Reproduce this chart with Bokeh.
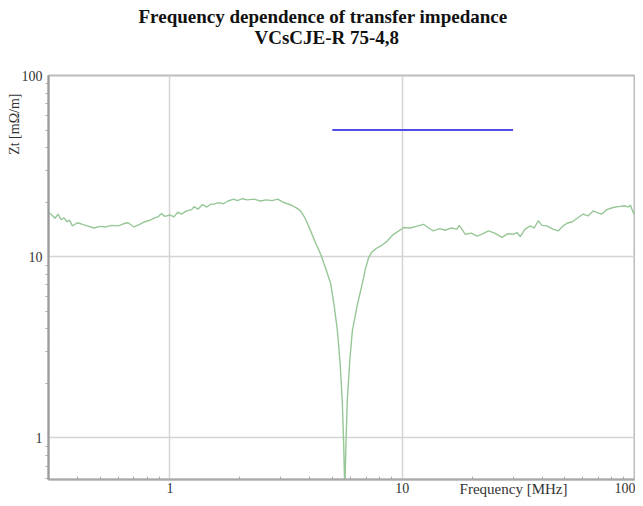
from bokeh.plotting import figure
from bokeh.models import Title, FixedTicker
from bokeh.embed import file_html
from bokeh.resources import INLINE

# Data
freq_mhz = [0.30, 0.31, 0.32, 0.33, 0.34, 0.35, 0.36, 0.37, 0.38, 0.40, 0.42, 0.44, 0.47, 0.50,
            0.53, 0.56, 0.60, 0.63, 0.66, 0.70, 0.74, 0.78, 0.82, 0.86, 0.89, 0.92, 0.95, 1.00,
            1.04, 1.08, 1.12, 1.18, 1.24, 1.27, 1.32, 1.38, 1.44, 1.50, 1.55, 1.62, 1.70, 1.78,
            1.88, 1.95, 2.05, 2.15, 2.30, 2.45, 2.60, 2.75, 2.91, 3.05, 3.20, 3.31, 3.50, 3.65,
            3.80, 3.95, 4.10, 4.25, 4.46, 4.70, 4.92, 5.10, 5.26, 5.40, 5.52, 5.60, 5.66, 5.72,
            5.80, 5.95, 6.10, 6.40, 6.73, 6.95, 7.17, 7.40, 7.81, 8.20, 8.62, 9.17, 9.60, 10.16,
            10.8, 11.5, 12.35, 12.9, 13.6, 14.5, 15.3, 16.2, 17.2, 17.6, 18.7, 19.8, 21.0, 22.3,
            23.5, 25.0, 26.9, 28.5, 30.0, 31.2, 32.2, 33.8, 35.6, 37.0, 38.5, 40.0, 42.0, 44.5,
            47.0, 49.0, 51.2, 54.0, 57.0, 60.1, 63.0, 66.4, 69.0, 72.3, 76.0, 80.9, 85.0, 91.1,
            94.0, 96.0, 98.6, 100.0]
zt_measured = [17.6, 17.0, 16.3, 17.2, 16.0, 16.4, 15.6, 15.9, 14.8, 15.4, 15.1, 14.8, 14.4, 14.7,
               14.6, 14.9, 14.8, 15.2, 15.4, 14.6, 15.1, 15.6, 15.9, 16.4, 16.6, 17.3, 16.7, 17.0,
               16.6, 17.6, 17.2, 17.9, 18.2, 18.9, 18.3, 19.4, 18.8, 19.5, 19.5, 19.9, 19.6, 20.3,
               20.8, 20.4, 20.9, 20.6, 20.8, 20.3, 20.6, 20.4, 20.8, 20.1, 19.6, 19.3, 18.6, 17.9,
               16.5, 14.8, 13.2, 11.8, 10.3, 8.5, 7.1, 5.3, 3.9, 2.6, 1.6, 0.9, 0.5, 0.9,
               1.6, 2.7, 3.9, 5.4, 7.1, 8.6, 9.9, 10.6, 11.2, 11.6, 12.2, 13.3, 13.8, 14.5,
               14.4, 14.7, 15.1, 14.5, 13.9, 14.3, 14.0, 14.4, 14.2, 14.9, 13.3, 13.5, 13.0, 13.4,
               13.9, 13.5, 12.8, 13.4, 13.3, 13.6, 12.9, 14.2, 14.8, 14.4, 15.8, 14.9, 14.8, 14.2,
               13.9, 14.7, 15.3, 15.6, 16.4, 17.2, 16.8, 17.9, 17.5, 17.2, 18.2, 18.7, 18.9, 19.1,
               18.8, 19.3, 17.6, 17.2]
limit_freq = [5.0, 30.0]
limit_zt = [50.0, 50.0]

x_ticks = [1, 10, 100]
y_ticks = [1, 10, 100]
x_tick_labels = {1: "1", 10: "10", 100: "100"}
y_tick_labels = {1: "1", 10: "10", 100: "100"}

SERIF = "Liberation Serif"

p = figure(width=635, height=498, x_axis_type="log", y_axis_type="log",
           x_range=(0.3, 100), y_range=(0.59, 100),
           output_backend="svg", toolbar_location=None,
           min_border_left=48, min_border_right=1, min_border_top=75, min_border_bottom=19)

p.background_fill_color = "white"
p.border_fill_color = "white"
p.outline_line_color = "#bcbcbc"
p.outline_line_width = 2

minor_x = [m * d for d in (0.1, 1, 10) for m in range(2, 10)]
minor_y = [m * d for d in (0.1, 1, 10) for m in range(2, 10)]
p.xaxis.ticker = FixedTicker(ticks=x_ticks, minor_ticks=minor_x)
p.yaxis.ticker = FixedTicker(ticks=y_ticks, minor_ticks=minor_y)
p.xaxis.major_label_overrides = x_tick_labels
p.yaxis.major_label_overrides = y_tick_labels

for ax in (p.xaxis[0], p.yaxis[0]):
    ax.major_label_text_font = SERIF
    ax.major_label_text_font_size = "14px"
    ax.major_label_text_color = "#333333"
    ax.major_tick_line_color = None
    ax.major_tick_out = 0
    ax.major_tick_in = 0
    ax.minor_tick_line_color = "#aaaaaa"
    ax.minor_tick_line_width = 1

p.yaxis.axis_line_color = "#999999"
p.yaxis.axis_line_width = 2
p.yaxis.minor_tick_in = 0
p.yaxis.minor_tick_out = 3
p.yaxis.major_label_standoff = 3
p.xaxis.axis_line_color = "#aaaaaa"
p.xaxis.axis_line_width = 2
p.xaxis.minor_tick_in = 3
p.xaxis.minor_tick_out = 0
p.xaxis.major_label_standoff = 3

p.xgrid.grid_line_color = "#d4d4d4"
p.ygrid.grid_line_color = "#d4d4d4"
p.xgrid.grid_line_width = 1.5
p.ygrid.grid_line_width = 1.5

p.line(freq_mhz, zt_measured, line_color="#97c797", line_width=1.4)
p.line(limit_freq, limit_zt, line_color="#4e4ee6", line_width=2)

# Two-line title: a thin spacer nearest the plot, then line 2, then line 1 (p.title, outermost)
p.add_layout(Title(text=" ", text_font_size="1px", standoff=25), "above")
p.add_layout(Title(text="VCsCJE-R 75-4,8", align="left",
                   offset=206, standoff=0, text_font=SERIF, text_font_style="bold",
                   text_font_size="19px", text_color="#111111"), "above")
p.title.text = "Frequency dependence of transfer impedance"
p.title.align = "left"
p.title.offset = 90
p.title.standoff = -4
p.title.text_font = SERIF
p.title.text_font_style = "bold"
p.title.text_font_size = "19px"
p.title.text_color = "#111111"

# Axis titles
p.add_layout(Title(text="Zt [mΩ/m]", align="right", offset=18, standoff=-6,
                   text_font=SERIF, text_font_style="normal", text_font_size="14px",
                   text_color="#333333"), "left")
p.add_layout(Title(text="Frequency [MHz]", align="right", vertical_align="top",
                   offset=67, standoff=-30,
                   text_font=SERIF, text_font_style="normal", text_font_size="15px",
                   text_color="#333333"), "below")

open("out.html", "w").write(file_html(p, INLINE))
